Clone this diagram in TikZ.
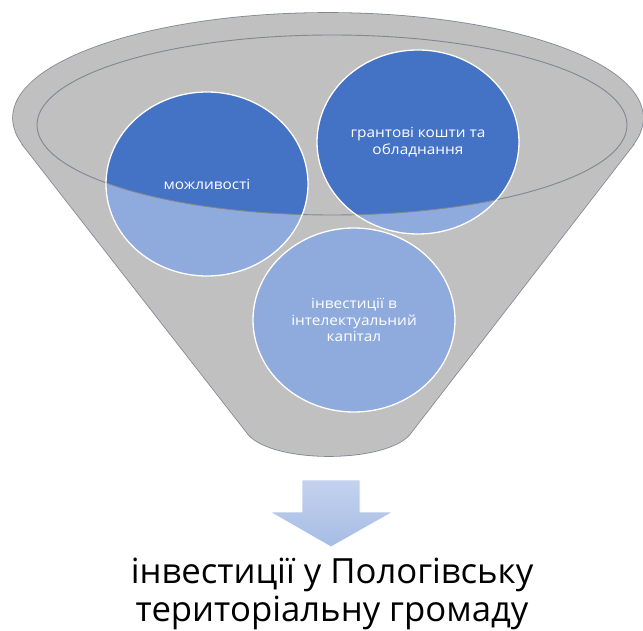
\documentclass[tikz,border=0pt]{standalone}
\usepackage{fontspec}
\setmainfont{Open Sans}
\newfontfamily\circlefont[FakeStretch=1.1]{Open Sans}
\usetikzlibrary{shapes.geometric}
\definecolor{funnelgray}{RGB}{192,192,192}
\definecolor{funnelline}{RGB}{128,134,146}
\definecolor{funneldarkblue}{RGB}{68,114,196}
\definecolor{funnellightblue}{RGB}{143,170,220}
\definecolor{funnelarrowtop}{RGB}{196,210,238}
\definecolor{funnelarrowbottom}{RGB}{166,188,228}
\tikzset{
    funnel label/.style={font=\circlefont\fontsize{14}{16.5}\selectfont, text=white, align=center},
    funnel circle/.style={
        ellipse,
        minimum width=202pt,
        minimum height=184pt,
        inner sep=0pt,
        draw=white,
        line width=1.3pt,
        funnel label
    },
    funnel edge/.style={draw=funnelline, line width=1.6pt},
    caption/.style={font=\fontsize{34.7}{38}\selectfont, text=black, align=center}
}

\begin{document}
\begin{tikzpicture}[x=1pt,y=1pt]
\useasboundingbox (0,0) rectangle (643,630);

%Funnel body: outlines first, then the fill over them
\draw[funnel edge] (328,512) ellipse [x radius=315, y radius=105];
\draw[funnel edge] (23,485) -- (249,195) .. controls (275,167) and (383,167) .. (409,195) -- (633,485) -- cycle;
\fill[funnelgray] (328,512) ellipse [x radius=315, y radius=105];
\fill[funnelgray] (23,485) -- (249,195) .. controls (275,167) and (383,167) .. (409,195) -- (633,485) -- cycle;

%Circles, light below the opening, dark inside it
\coordinate (opportunities-c) at (207,446);
\coordinate (grants-c) at (418,488);
\coordinate (capital-c) at (354,310);
\foreach \c in {opportunities-c,grants-c,capital-c}
    \fill[funnellightblue] (\c) ellipse [x radius=101, y radius=92];
\begin{scope}
    \clip (332,505) ellipse [x radius=295, y radius=90];
    \foreach \c in {opportunities-c,grants-c}
        \fill[funneldarkblue] (\c) ellipse [x radius=101, y radius=92];
\end{scope}

\draw[funnelline, line width=0.9pt] (332,505) ellipse [x radius=295, y radius=90];

\node[funnel circle] (opportunities) at (opportunities-c) {можливості};
\node[funnel circle] (grants) at (grants-c) {грантові кошти та\\обладнання};
\node[funnel circle] (capital) at (capital-c) {інвестиції в\\інтелектуальний\\капітал};

%Arrow down to the result
\shade[top color=funnelarrowtop, bottom color=funnelarrowbottom, draw=white, line width=0.8pt]
    (302,150) -- (360,150) -- (360,118) -- (393,118) -- (331,83) -- (270,118) -- (302,118) -- cycle;

\node[caption] (result) at (332,36) {інвестиції у Пологівську\\територіальну громаду};

\end{tikzpicture}
\end{document}
